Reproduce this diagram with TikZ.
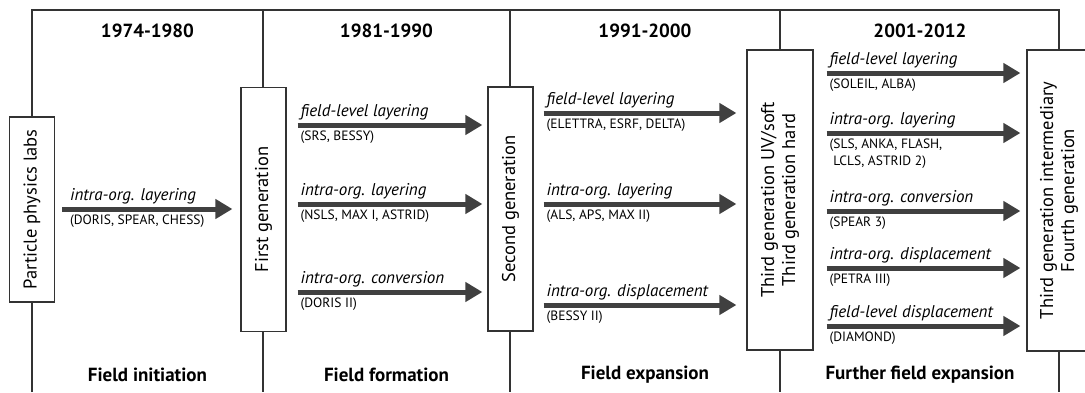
\documentclass[tikz,border=0pt]{standalone}
\usepackage{fontspec}
\setmainfont{PT Sans}
\usepackage{tikz}
\usetikzlibrary{arrows.meta,calc}

\definecolor{framecol}{HTML}{333333}
\definecolor{flowcol}{HTML}{404040}
\newcommand{\yearfont}{\fontsize{19}{21}\selectfont\bfseries}
\newcommand{\boxfont}{\fontsize{18.5}{21}\selectfont}
\newcommand{\actfont}{\fontsize{17}{19}\selectfont\itshape}
\newcommand{\exfont}{\fontsize{13.5}{17}\selectfont}

\begin{document}
\begin{tikzpicture}[
                x=1pt, y=-1pt,
                frame/.style={draw=framecol, line width=1.2pt},
                stage/.style={draw=framecol, fill=white, line width=1.2pt, rotate=90, align=center, font=\boxfont, inner sep=0pt},
                flow/.style={draw=flowcol, line width=5pt, -{Triangle[length=17pt,width=19pt]}},
                act/.style={font=\actfont, anchor=south west, inner sep=0.5pt, yshift=2pt},
                ex/.style={font=\exfont, anchor=north west, inner sep=0.5pt, yshift=-3pt, align=left},
                period/.style={font=\yearfont}
                ]
                \useasboundingbox (0,0) rectangle (1085,392);
                % frame of the four periods
                \draw[frame] (32,392) -- (32,10) -- (1059,10) -- (1059,392);
                \foreach \x in {263,510,780}
                    \draw[frame] (\x,10) -- (\x,392);
                % periods
                \node[period] (y1) at (147.5,31) {1974-1980};
                \node[period] (y2) at (386.5,31) {1981-1990};
                \node[period] (y3) at (645,31) {1991-2000};
                \node[period] (y4) at (920,31) {2001-2012};
                \node[period] (p1) at (147.5,375) {Field initiation};
                \node[period] (p2) at (386.5,375) {Field formation};
                \node[period] (p3) at (645,375) {Field expansion};
                \node[period] (p4) at (920,375) {Further field expansion};
                % generations
                \node[stage, minimum width=185pt, minimum height=45pt] (labs) at (32,209.5) {Particle physics labs};
                \node[stage, minimum width=244pt, minimum height=45pt] (gen1) at (263.5,209.5) {First generation};
                \node[stage, minimum width=244pt, minimum height=45pt] (gen2) at (510.5,209) {Second generation};
                \node[stage, minimum width=300pt, minimum height=66pt] (gen3) at (780,200) {Third generation UV/soft\\Third generation hard};
                \node[stage, minimum width=301pt, minimum height=64pt] (gen4) at (1059,200.5) {Third generation intermediary\\Fourth generation};
                % transitions
                \draw[flow] ($(labs.south |- 0,209)+(7,0)$) -- ($(gen1.north |- 0,209)+(-8,0)$)
                    node[act, pos=0, xshift=5pt] (a1) {intra-org. layering}
                    node[ex, pos=0, xshift=5pt] (e1) {(DORIS, SPEAR, CHESS)};
                \foreach \y/\lab/\inst [count=\i] in {125/field-level layering/{(SRS, BESSY)},
                                                     204/intra-org. layering/{(NSLS, MAX I, ASTRID)},
                                                     292/intra-org. conversion/{(DORIS II)}}
                    \draw[flow] ($(gen1.south |- 0,\y)+(11,0)$) -- ($(gen2.north |- 0,\y)+(-5,0)$)
                        node[act, pos=0] (a2\i) {\lab}
                        node[ex, pos=0] (e2\i) {\inst};
                \foreach \y/\lab/\inst [count=\i] in {113/field-level layering/{(ELETTRA, ESRF, DELTA)},
                                                     204/intra-org. layering/{(ALS, APS, MAX II)},
                                                     305/intra-org. displacement/{(BESSY II)}}
                    \draw[flow] ($(gen2.south |- 0,\y)+(10,0)$) -- ($(gen3.north |- 0,\y)+(-10,0)$)
                        node[act, pos=0] (a3\i) {\lab}
                        node[ex, pos=0] (e3\i) {\inst};
                \foreach \y/\lab/\inst [count=\i] in {73/field-level layering/{(SOLEIL, ALBA)},
                                                     133/intra-org. layering/{(SLS, ANKA, FLASH,\\\hphantom{(}LCLS, ASTRID 2)},
                                                     211/intra-org. conversion/{(SPEAR 3)},
                                                     268/intra-org. displacement/{(PETRA III)},
                                                     326/field-level displacement/{(DIAMOND)}}
                    \draw[flow] ($(gen3.south |- 0,\y)+(13,0)$) -- ($(gen4.north |- 0,\y)+(-6,0)$)
                        node[act, pos=0] (a4\i) {\lab}
                        node[ex, pos=0] (e4\i) {\inst};
\end{tikzpicture}
\end{document}
